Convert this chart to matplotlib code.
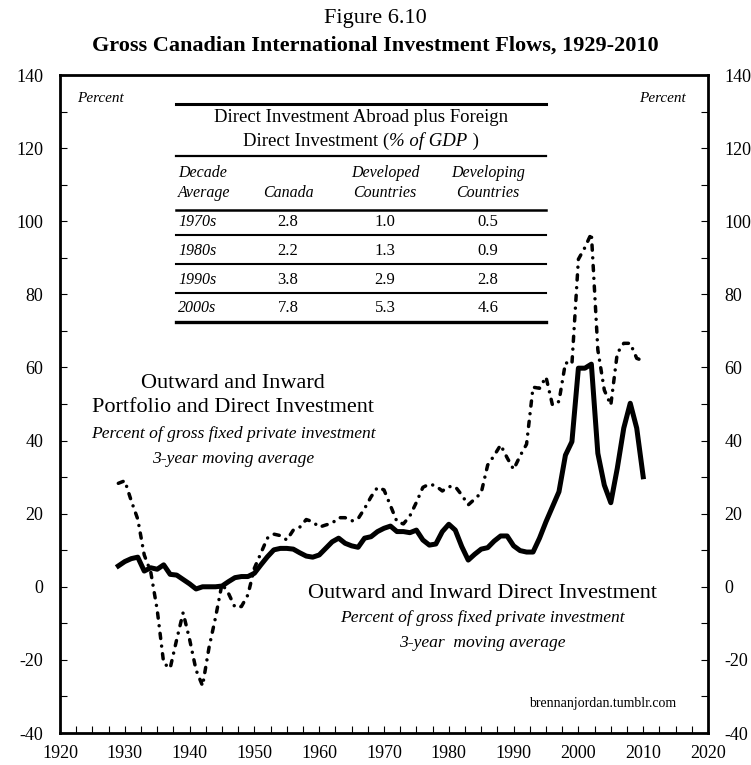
import matplotlib
matplotlib.use('Agg')
import matplotlib.pyplot as plt
import numpy as np
from matplotlib.lines import Line2D
from matplotlib.ticker import MultipleLocator

years = np.arange(1929, 2011)

# outward + inward portfolio and direct investment, % of gross fixed private investment
portfolio_direct = [28.3, 29.0, 23.5, 18.5, 8.7, 4.1, -6.3, -20.9, -22.3, -14.5,
                    -7.1, -14.4, -22.8, -27.1, -16.6, -8.4, 0.8, -1.8, -5.6, -5.4,
                    -2.2, 5.1, 9.2, 13.3, 14.4, 14.0, 12.8, 15.5, 16.3, 18.4,
                    17.8, 16.3, 16.9, 17.4, 18.9, 18.9, 18.0, 18.6, 21.4, 24.6,
                    27.2, 26.5, 22.2, 17.8, 17.2, 19.4, 23.1, 27.2, 28.1, 27.6,
                    26.2, 27.4, 27.4, 25.1, 22.4, 24.0, 25.7, 33.3, 35.9, 38.8,
                    35.3, 32.1, 35.8, 39.0, 54.6, 54.3, 57.4, 49.7, 50.7, 61.3,
                    60.9, 89.6, 92.8, 96.7, 64.8, 53.8, 49.7, 63.9, 66.6, 66.6,
                    62.5, 61.8]

# outward + inward direct investment only
direct_only = [5.7, 6.9, 7.7, 8.1, 4.3, 5.2, 4.8, 6.0, 3.4, 3.2,
               2.0, 0.8, -0.6, 0.0, 0.0, 0.0, 0.2, 1.4, 2.5, 2.8,
               2.8, 3.7, 6.0, 8.2, 10.1, 10.5, 10.5, 10.3, 9.3, 8.4,
               8.1, 8.7, 10.5, 12.3, 13.3, 11.9, 11.2, 10.8, 13.3, 13.7,
               15.1, 16.0, 16.6, 15.1, 15.1, 14.8, 15.5, 12.8, 11.4, 11.7,
               15.1, 17.1, 15.5, 11.0, 7.3, 8.9, 10.3, 10.7, 12.5, 13.9,
               13.9, 11.2, 9.9, 9.5, 9.5, 13.3, 17.8, 21.9, 26.0, 36.0,
               39.7, 59.8, 59.8, 60.9, 36.5, 27.8, 23.0, 32.4, 43.4, 50.2,
               43.4, 30.1]

# inset table
decades = ['1970s', '1980s', '1990s', '2000s']
canada = ['2.8', '2.2', '3.8', '7.8']
developed = ['1.0', '1.3', '2.9', '5.3']
developing = ['0.5', '0.9', '2.8', '4.6']

W, H = 751, 765
plt.rcParams['font.family'] = ['Liberation Serif', 'DejaVu Serif']
plt.rcParams['axes.unicode_minus'] = False

fig = plt.figure(figsize=(W / 100, H / 100), dpi=100)

def fx(px):
    return px / W

def fy(py):
    return 1 - py / H

ax = fig.add_axes([fx(60), fy(733), 648 / W, 658 / H])

ax.plot(years, direct_only, color='black', lw=3.6, solid_joinstyle='round', zorder=3)
ax.plot(years, portfolio_direct, color='black', lw=2.5,
        linestyle=(0, (1.5, 2.2, 0.01, 2.2)), dash_capstyle='round', zorder=4)

ax.set_xlim(1920, 2020)
ax.set_ylim(-40, 140)
ax.xaxis.set_major_locator(MultipleLocator(10))
ax.xaxis.set_minor_locator(MultipleLocator(2.5))
ax.yaxis.set_major_locator(MultipleLocator(20))
ax.yaxis.set_minor_locator(MultipleLocator(10))
ax.tick_params(axis='both', which='both', direction='in', length=5, width=0.8,
               labelsize=13, pad=12)
ax.tick_params(axis='y', which='both', left=True, right=True, labelleft=True, labelright=True)
ax.tick_params(axis='x', which='both', top=False, pad=9)
for s in ax.spines.values():
    s.set_linewidth(2)

# titles
fig.text(0.5, fy(18), 'Figure 6.10', ha='center', va='center', fontsize=16)
fig.text(0.5, fy(46), 'Gross Canadian International Investment Flows, 1929-2010',
         ha='center', va='center', fontsize=16, fontweight='bold')

fig.text(fx(77), fy(98), 'Percent', ha='left', va='center', fontsize=11, style='italic')
fig.text(fx(686), fy(98), 'Percent', ha='right', va='center', fontsize=11, style='italic')

# series labels
for txt, yy, st, fs in [('Outward and Inward', 383, 'normal', 16),
                        ('Portfolio and Direct Investment', 408, 'normal', 16),
                        ('Percent of gross fixed private investment', 434, 'italic', 12.6),
                        ('3-year moving average', 459, 'italic', 12.6)]:
    fig.text(fx(233), fy(yy), txt, ha='center', va='center', fontsize=fs, style=st)

for txt, yy, st, fs in [('Outward and Inward Direct Investment', 593, 'normal', 16),
                        ('Percent of gross fixed private investment', 618, 'italic', 12.6),
                        ('3-year  moving average', 643, 'italic', 12.6)]:
    fig.text(fx(482), fy(yy), txt, ha='center', va='center', fontsize=fs, style=st)

fig.text(fx(676), fy(704), 'brennanjordan.tumblr.com', ha='right', va='center', fontsize=10)

# inset table
tl, tr = 176, 546
def rule(py, lw):
    fig.add_artist(Line2D([fx(tl), fx(tr)], [fy(py), fy(py)], lw=lw, color='black'))

rule(104, 2.2)
fig.text(fx(361), fy(118), 'Direct Investment Abroad plus Foreign',
         ha='center', va='center', fontsize=13.5)

# second title line: mixed upright / italic pieces, laid out side by side
pieces = [('Direct Investment (', 'normal'), ('% of GDP', 'italic'), (' )', 'normal')]
renderer = fig.canvas.get_renderer()
parts = [fig.text(0, fy(141), p, ha='left', va='center', fontsize=13.5, style=st)
         for p, st in pieces]
widths = [t.get_window_extent(renderer).width for t in parts]
x0 = 361 - sum(widths) / 2
for t, w in zip(parts, widths):
    t.set_x(fx(x0))
    x0 += w

rule(156, 1.6)
hfs = 11.5
fig.text(fx(178), fy(173), 'Decade', ha='left', va='center', fontsize=hfs, style='italic')
fig.text(fx(178), fy(193), 'Average', ha='left', va='center', fontsize=hfs, style='italic')
fig.text(fx(288), fy(193), 'Canada', ha='center', va='center', fontsize=hfs, style='italic')
fig.text(fx(385), fy(173), 'Developed', ha='center', va='center', fontsize=hfs, style='italic')
fig.text(fx(385), fy(193), 'Countries', ha='center', va='center', fontsize=hfs, style='italic')
fig.text(fx(488), fy(173), 'Developing', ha='center', va='center', fontsize=hfs, style='italic')
fig.text(fx(488), fy(193), 'Countries', ha='center', va='center', fontsize=hfs, style='italic')
rule(210, 1.8)
row_y = [222, 251, 280, 308]
rule_y = [235, 264, 293]
for i in range(len(decades)):
    yy = row_y[i]
    fig.text(fx(178), fy(yy), decades[i], ha='left', va='center', fontsize=hfs, style='italic')
    fig.text(fx(288), fy(yy), canada[i], ha='center', va='center', fontsize=12)
    fig.text(fx(385), fy(yy), developed[i], ha='center', va='center', fontsize=12)
    fig.text(fx(488), fy(yy), developing[i], ha='center', va='center', fontsize=12)
for ry in rule_y:
    rule(ry, 1.5)
rule(322, 2.4)

fig.savefig('out.png', dpi=100)
